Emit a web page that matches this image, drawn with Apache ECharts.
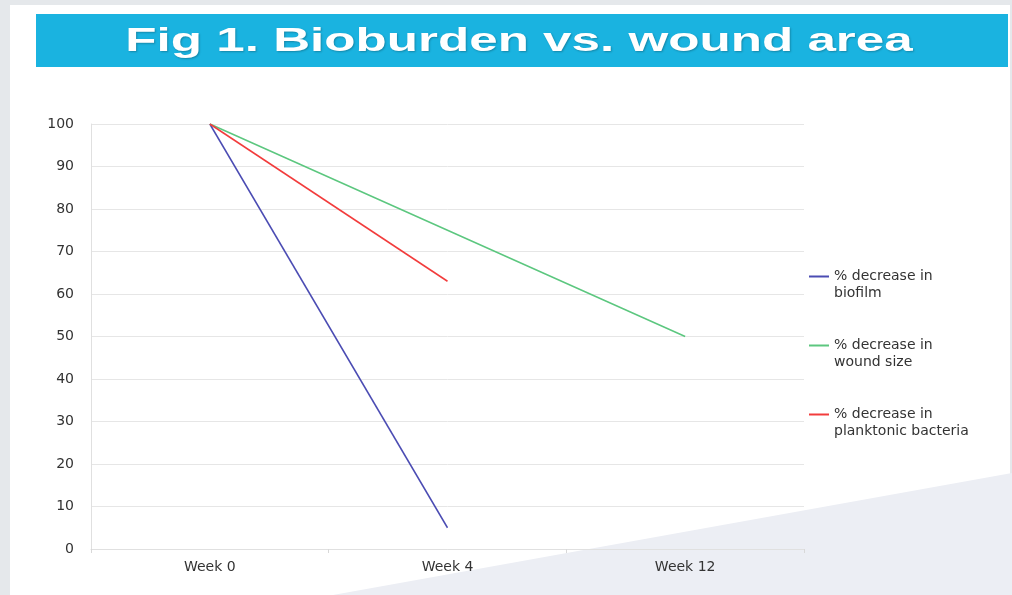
<!DOCTYPE html>
<html>
<head>
<meta charset="utf-8">
<script src="https://cdn.jsdelivr.net/npm/echarts@6/dist/echarts.min.js"></script>
<style>
html,body{margin:0;padding:0;background:#e5e8eb;}
#chart{width:1012px;height:595px;}
</style>
</head>
<body>
<div id="chart"></div>
<script>
var categories = ['Week 0', 'Week 4', 'Week 12'];
var biofilm = [100, 5, null];
var woundSize = [100, 75, 50];
var planktonic = [100, 63, null];
var seriesNames = ['% decrease in\nbiofilm', '% decrease in\nwound size', '% decrease in\nplanktonic bacteria'];
var titleText = 'Fig 1. Bioburden vs. wound area';

var chart = echarts.init(document.getElementById('chart'));
var font = '"DejaVu Sans", Verdana, sans-serif';
chart.setOption({
  backgroundColor: '#e5e8eb',
  animation: false,
  graphic: [
    { type: 'rect', z: -10, silent: true, shape: { x: 10, y: 5, width: 1000, height: 590 }, style: { fill: '#ffffff' } },
    { type: 'polygon', z: -9, silent: true, shape: { points: [[333, 595], [1012, 473], [1012, 595]] }, style: { fill: '#eceef4' } },
    { type: 'rect', z: -8, silent: true, shape: { x: 36, y: 14, width: 972, height: 53 }, style: { fill: '#1ab3e0' } },
    { type: 'text', z: 10, silent: true, x: 519, y: 42, scaleX: 1.55, scaleY: 1,
      style: { x: 0, y: 0, text: titleText, fill: '#ffffff', align: 'center', verticalAlign: 'middle',
        font: 'bold 33px "Liberation Sans", Arial, sans-serif', textShadowColor: 'rgba(0,0,0,0.25)', textShadowBlur: 2, textShadowOffsetX: 1, textShadowOffsetY: 1 } }
  ],
  grid: { left: 91, right: 208, top: 124, bottom: 46 },
  legend: {
    orient: 'vertical',
    left: 804,
    top: 246,
    itemWidth: 20,
    itemHeight: 2,
    itemGap: 18,
    icon: 'rect',
    data: seriesNames,
    formatter: function (name) { return '\n' + name; },
    textStyle: { fontFamily: font, fontSize: 14, color: '#333333', lineHeight: 17 }
  },
  xAxis: {
    type: 'category',
    data: categories,
    boundaryGap: true,
    axisLine: { lineStyle: { color: '#e0e0e0' } },
    axisTick: { show: true, lineStyle: { color: '#d8d8d8' }, length: 4 },
    axisLabel: { fontFamily: font, fontSize: 14, color: '#333333', margin: 11 }
  },
  yAxis: {
    type: 'value',
    min: 0,
    max: 100,
    interval: 10,
    axisLine: { show: true, lineStyle: { color: '#e0e0e0' } },
    axisTick: { show: false },
    splitLine: { lineStyle: { color: '#e6e6e6' } },
    axisLabel: { fontFamily: font, fontSize: 14, color: '#333333', margin: 17 }
  },
  series: [
    { name: seriesNames[0], type: 'line', data: biofilm, symbol: 'none', color: '#4b4cb3', lineStyle: { width: 1.5 } },
    { name: seriesNames[1], type: 'line', data: woundSize, symbol: 'none', color: '#5cc77f', lineStyle: { width: 1.5 } },
    { name: seriesNames[2], type: 'line', data: planktonic, symbol: 'none', color: '#f23c3c', lineStyle: { width: 1.5 } }
  ]
});
</script>
</body>
</html>
